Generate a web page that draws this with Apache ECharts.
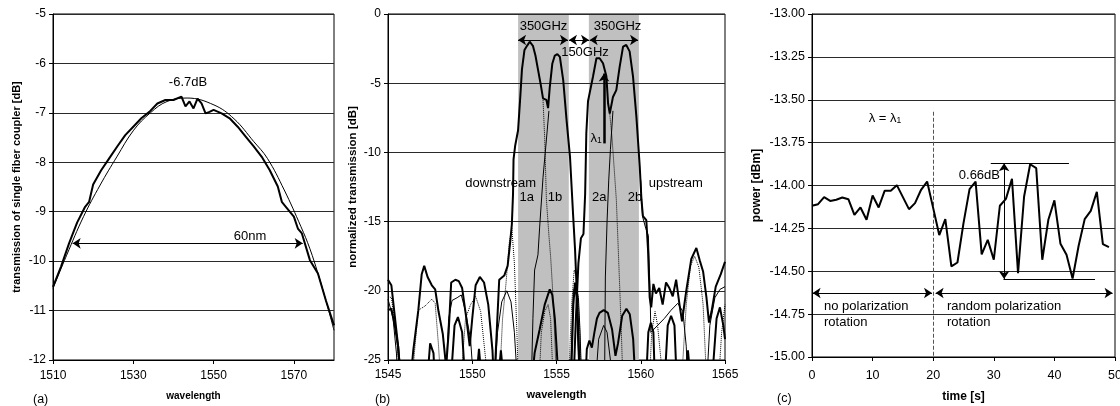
<!DOCTYPE html>
<html><head><meta charset="utf-8">
<script src="https://cdn.jsdelivr.net/npm/echarts/dist/echarts.min.js"></script>
<style>html,body{margin:0;padding:0;background:#fff}#c{width:1120px;height:406px}</style>
</head><body><div id="c"></div>
<script>
// ---------- panel (a) ----------
const aMeasX = [1510,1512,1514,1516,1518,1519,1520,1522,1524,1526,1528,1530,1532,1534,1536,1538,1540,1542,1543,1544,1545,1546,1547,1548,1549,1550,1552,1554,1556,1558,1560,1562,1564,1566,1567,1568,1570,1571,1572,1574,1576,1578,1580];
const aMeasY = [-10.52,-10.11,-9.64,-9.22,-8.9,-8.8,-8.45,-8.16,-7.92,-7.68,-7.45,-7.28,-7.11,-6.98,-6.81,-6.74,-6.74,-6.67,-6.87,-6.77,-6.91,-6.71,-6.81,-7.01,-6.98,-6.94,-7.01,-7.11,-7.28,-7.48,-7.68,-7.89,-8.16,-8.49,-8.8,-8.9,-9.1,-9.34,-9.44,-9.98,-10.25,-10.8,-11.3];
const aFitX = [1510,1513.4,1517.6,1521.75,1525.9,1530.1,1534.25,1538.4,1543.4,1550.1,1555.1,1560,1563.4,1567.6,1571.75,1574,1576,1578,1580];
const aFitY = [-10.55,-9.88,-9.1,-8.46,-7.89,-7.35,-7.0,-6.77,-6.7,-6.84,-7.12,-7.58,-7.92,-8.56,-9.3,-9.75,-10.25,-10.8,-11.4];
const aSpan = [[1514.9,-9.64],[1572.2,-9.64]];

// ---------- panel (b) ----------
const bBands = [[1552.72,1555.73],[1556.92,1559.89]];
const bDown = [[1545,-19.2],[1545.2,-19.6],[1545.4,-21.8],[1545.6,-24],[1545.8,-27],[1546.3,-27],[1546.5,-24.3],[1546.8,-21.4],[1547,-18.8],[1547.15,-18.2],[1547.35,-19],[1547.6,-19.6],[1547.8,-19.9],[1548,-21.5],[1548.25,-23.1],[1548.45,-25.5],[1548.6,-23],[1548.75,-19.4],[1549,-19.2],[1549.2,-19.3],[1549.4,-19.8],[1549.65,-22],[1549.85,-24],[1550,-22],[1550.2,-19.6],[1550.45,-19],[1550.7,-19.4],[1550.95,-21],[1551.2,-24.3],[1551.3,-27],[1551.4,-24.3],[1551.6,-19.2],[1551.9,-18.9],[1552.1,-18.2],[1552.25,-16.5],[1552.35,-15.2],[1552.42,-13],[1552.45,-10.5],[1552.55,-9.5],[1552.72,-8.4],[1552.85,-6],[1552.95,-4],[1553.1,-2.6],[1553.25,-2.3],[1553.41,-2],[1553.6,-2.3],[1553.75,-3],[1553.9,-4],[1554.05,-5],[1554.2,-6.1],[1554.4,-6.2],[1554.5,-6.8],[1554.6,-5.3],[1554.75,-3.6],[1554.9,-3],[1555.05,-2.9],[1555.2,-3.1],[1555.4,-4.8],[1555.6,-7.7],[1555.8,-10.3],[1555.98,-14.4],[1556.1,-17],[1556.2,-20],[1556.3,-23],[1556.4,-27]];
const bUp = [[1556,-27],[1556.15,-22],[1556.3,-18],[1556.45,-16.2],[1556.6,-15.9],[1556.7,-13],[1556.77,-8.6],[1556.87,-6.3],[1556.97,-5.7],[1557.17,-4.5],[1557.37,-3.2],[1557.56,-3.2],[1557.76,-3.56],[1557.96,-4.5],[1558.06,-6.45],[1558.16,-7.2],[1558.35,-6],[1558.55,-5.5],[1558.75,-3.8],[1558.95,-2.36],[1559.14,-2.24],[1559.34,-2.7],[1559.54,-4.5],[1559.74,-7.4],[1559.94,-11],[1560.04,-13.4],[1560.13,-14.6],[1560.33,-14.9],[1560.43,-17],[1560.53,-20.5],[1560.62,-21.2],[1560.75,-19.5],[1560.9,-20.2],[1561.1,-19.8],[1561.3,-21],[1561.5,-19.4],[1561.7,-19.8],[1561.9,-20.4],[1562.1,-19.2],[1562.3,-21],[1562.45,-22.2],[1562.7,-20],[1563,-17.7],[1563.3,-16.9],[1563.5,-17.8],[1563.7,-18.6],[1563.9,-20.5],[1564.05,-22.3],[1564.2,-21.5],[1564.45,-19.7],[1564.75,-18.8],[1565,-17.9]];
const bThickLow = [[1545,-21.4],[1545.2,-21.3],[1545.4,-22.5],[1545.6,-24],[1545.8,-27],[1547.3,-27],[1547.5,-23.8],[1547.7,-24.5],[1547.8,-27],[1548.7,-27],[1548.95,-22.5],[1549.15,-21.9],[1549.4,-23],[1549.6,-27],[1550.2,-27],[1550.4,-24.2],[1550.6,-27],[1551.5,-27],[1551.7,-24.3],[1551.9,-27],[1553.5,-27],[1553.7,-24.5],[1554,-22.8],[1554.3,-21],[1554.6,-19.9],[1554.75,-20.3],[1554.9,-22],[1555.05,-25],[1555.15,-27],[1556.7,-27],[1556.8,-24.2],[1556.95,-23.6],[1557.1,-24.1],[1557.25,-23],[1557.4,-22],[1557.55,-21.6],[1557.8,-21.4],[1558.05,-21.6],[1558.3,-22.8],[1558.5,-24.7],[1558.65,-23.8],[1558.9,-21.8],[1559.15,-21.3],[1559.35,-21.7],[1559.55,-23.5],[1559.7,-27]];
const bThickMid = [[1555.85,-27],[1556,-21],[1556.1,-19.4],[1556.2,-20.5],[1556.3,-24],[1556.4,-27]];
const bThickRight = [[1560.3,-27],[1560.45,-23],[1560.6,-22.3],[1560.75,-23],[1560.85,-27],[1561.4,-27],[1561.6,-22.5],[1561.8,-21.8],[1562,-22.5],[1562.15,-27],[1562.6,-27],[1562.8,-24.3],[1563,-27],[1564.2,-27],[1564.5,-22],[1564.7,-21.2],[1564.9,-22.5],[1565,-23.5]];
const bThinLeft = [[1545,-20.6],[1545.3,-22],[1545.5,-24.5],[1545.6,-27],[1548.4,-27],[1548.6,-22],[1548.8,-20.7],[1549.1,-20.5],[1549.35,-20.3],[1549.6,-21.5],[1549.9,-23.5],[1550.1,-27],[1551.3,-27],[1551.5,-23],[1551.75,-20.8],[1552.05,-20],[1552.3,-20.8],[1552.5,-23],[1552.7,-27]];
const bThin1b = [[1553.5,-27],[1553.6,-22],[1553.7,-18.5],[1553.9,-17.4],[1554,-15.4],[1554.2,-11.8],[1554.4,-9.1],[1554.55,-7]];
const bThin2b = [[1557.85,-27],[1557.9,-19],[1558,-15],[1558.1,-12],[1558.2,-9.8],[1558.35,-7]];
const bThinArch = [[1557.3,-27],[1557.5,-23.5],[1557.8,-22.5],[1558,-23],[1558.2,-25],[1558.3,-27]];
const bThinMid = [[1555.8,-27],[1556,-20],[1556.15,-19.5],[1556.3,-20.5],[1556.4,-23],[1556.5,-27]];
const bThinRight = [[1560,-12],[1560.1,-14.6],[1560.3,-15.5],[1560.45,-16],[1560.55,-20],[1560.6,-23],[1561,-22.5],[1561.4,-22],[1561.8,-21.4],[1562.2,-20.9],[1562.5,-21.5],[1562.7,-24],[1562.8,-27],[1563.9,-27],[1564.1,-22.5],[1564.4,-20.5],[1564.7,-19.9],[1565,-19.7]];
const bDotLeft = [[1545,-20.4],[1545.2,-20.5],[1545.5,-23],[1545.7,-27],[1546.4,-27],[1546.6,-24],[1546.8,-21.4],[1547.2,-21.1],[1547.6,-20.6],[1547.8,-20.9],[1548,-24],[1548.15,-27],[1549.3,-27],[1549.6,-22],[1549.9,-21],[1550.2,-20.4],[1550.5,-21.5],[1550.8,-25],[1550.9,-27],[1551.6,-27],[1551.8,-22],[1552,-19.5],[1552.2,-16.5],[1552.35,-15.5],[1552.5,-18],[1552.65,-23],[1552.75,-27]];
const bDot1a = [[1554.2,-6.2],[1554.3,-9],[1554.4,-13.4],[1554.55,-16],[1554.65,-17.5],[1554.75,-19.5],[1554.85,-22],[1554.95,-25],[1555,-27]];
const bDot1bLow = [[1553.95,-27],[1554.1,-23],[1554.3,-21.5],[1554.5,-21],[1554.65,-22],[1554.75,-25],[1554.8,-27]];
const bDot2a = [[1558.16,-7.2],[1558.3,-9],[1558.55,-13.4],[1558.65,-16.5],[1558.75,-19.7],[1558.85,-23],[1558.95,-27]];
const bDotMid = [[1555.7,-27],[1555.9,-21],[1556.05,-18.5],[1556.2,-19],[1556.35,-22],[1556.5,-27]];
const bDotRight = [[1560.5,-27],[1560.65,-23],[1560.85,-21.5],[1561,-22.5],[1561.2,-25],[1561.35,-27],[1562.4,-27],[1562.7,-21],[1562.95,-18.2],[1563.2,-17.5],[1563.45,-18.3],[1563.7,-21],[1563.85,-25],[1563.95,-27],[1564.6,-27],[1564.8,-23],[1565,-21]];
const bSpan350a = [[1552.72,-1.88],[1555.68,-1.88]];
const bSpan150 = [[1555.74,-1.88],[1556.93,-1.88]];
const bSpan350b = [[1556.97,-1.88],[1559.84,-1.88]];
const bLambda = [[1557.82,-9.35],[1557.82,-4.3]];

// ---------- panel (c) ----------
const cTime = [0,1,2,3,4,5,6,7,8,9,10,11,12,13,14,15,16,17,18,19,20,21,22,23,24,25,26,27,28,29,30,31,32,33,34,35,36,37,38,39,40,41,42,43,44,45,46,47,48,49];
const cPower = [-14.118,-14.109,-14.068,-14.09,-14.083,-14.07,-14.08,-14.171,-14.128,-14.2,-14.058,-14.128,-14.03,-14.03,-13.998,-14.068,-14.138,-14.103,-14.025,-13.977,-14.132,-14.289,-14.196,-14.472,-14.449,-14.219,-14.021,-13.977,-14.402,-14.317,-14.433,-14.118,-14.078,-13.961,-14.511,-14.064,-13.876,-13.899,-14.433,-14.2,-14.087,-14.34,-14.404,-14.542,-14.351,-14.196,-14.148,-14.037,-14.342,-14.359];
const cSwitch = [[20,-13.57],[20,-15]];
const cTopRef = [[29.5,-13.87],[42.4,-13.87]];
const cBotRef = [[31.6,-14.545],[46.7,-14.545]];
const cRange = [[31.7,-13.87],[31.7,-14.545]];
const cPhase1 = [[0.1,-14.627],[19.8,-14.627]];
const cPhase2 = [[20.4,-14.627],[49.6,-14.627]];

const zip = (xs, ys) => xs.map((x, i) => [x, ys[i]]);
const FONT = '"Liberation Sans", Arial, sans-serif';

function seg(p, sym, w, type, color) {
  return [{coord: p[0], symbol: sym[0]}, {coord: p[1], symbol: sym[1]}].map(d => Object.assign(d, {lineStyle: {color: color || '#000', width: w, type: type || 'solid'}}));
}
function marks(list) {
  return {silent: true, animation: false, symbolSize: 8, label: {show: false}, emphasis: {disabled: true}, data: list};
}
function line(data, idx, w, type, z, extra) {
  return Object.assign({type: 'line', xAxisIndex: idx, yAxisIndex: idx, data: data, showSymbol: false, symbol: 'none',
    lineStyle: {color: '#000', width: w, type: type || 'solid'}, z: z || 5, silent: true, animation: false, clip: true,
    emphasis: {disabled: true}}, extra || {});
}
function xAx(idx, min, max, interval, name, gap, margin, fs, nfs, hideMax) {
  return {gridIndex: idx, type: 'value', min, max, interval, z: 3, name, nameLocation: 'middle', nameGap: gap,
    nameTextStyle: {color: '#000', fontWeight: 'bold', fontSize: nfs, fontFamily: FONT},
    axisLine: {show: true, onZero: false, lineStyle: {color: '#000', width: 1}},
    axisTick: {show: true, length: 4, lineStyle: {color: '#000'}},
    splitLine: {show: false},
    axisLabel: {color: '#000', fontSize: fs, fontFamily: FONT, margin, showMaxLabel: !hideMax,
      formatter: v => (hideMax && v === max) ? '' : String(v)}};
}
function yAx(idx, min, max, interval, name, gap, fs, nfs, dec) {
  return {gridIndex: idx, type: 'value', min, max, interval, z: 3, name, nameLocation: 'middle', nameGap: gap, nameRotate: 90,
    nameTextStyle: {color: '#000', fontWeight: 'bold', fontSize: nfs, fontFamily: FONT},
    axisLine: {show: true, onZero: false, lineStyle: {color: '#000', width: 1}},
    axisTick: {show: true, length: 4, lineStyle: {color: '#000'}},
    splitLine: {show: true, lineStyle: {color: '#2a2a2a', width: 1}},
    axisLabel: {color: '#000', fontSize: fs, fontFamily: FONT, margin: 7, formatter: v => v.toFixed(dec)}};
}
function txt(x, y, text, align, size, extra) {
  return {type: 'text', x, y, silent: true, z: 20,
    style: Object.assign({text, fill: '#000', fontSize: size || 13, fontFamily: FONT, align: align || 'center', verticalAlign: 'middle'}, extra || {})};
}
const sub = {l: {fontSize: 13, fontFamily: FONT, fill: '#000'}, s: {fontSize: 8.5, fontFamily: FONT, fill: '#000', verticalAlign: 'bottom', padding: [6, 0, 0, 0]}};

const gridBase = {show: true, borderColor: '#000', borderWidth: 1, backgroundColor: 'transparent', containLabel: false, outerBoundsMode: 'none'};

const option = {
  backgroundColor: '#fff',
  animation: false,
  grid: [
    Object.assign({left: 53, top: 14, width: 281, height: 346}, gridBase),
    Object.assign({left: 388, top: 14, width: 337, height: 346}, gridBase),
    Object.assign({left: 812, top: 14, width: 303, height: 343}, gridBase)
  ],
  xAxis: [
    xAx(0, 1510, 1580, 20, 'wavelength', 31, 10, 12, 10, true),
    xAx(1, 1545, 1565, 5, 'wavelength', 29, 9, 12, 11, false),
    xAx(2, 0, 50, 10, 'time [s]', 34, 12, 12.5, 12, false)
  ],
  yAxis: [
    yAx(0, -12, -5, 1, 'transmission of single fiber coupler [dB]', 31, 12, 11, 0),
    yAx(1, -25, 0, 5, 'normalized transmission [dB]', 29, 12, 11.5, 0),
    yAx(2, -15, -13, 0.25, 'power [dBm]', 49, 12.5, 12, 2)
  ],
  series: [
    // (a)
    line(zip(aMeasX, aMeasY), 0, 2, 'solid', 5),
    line(zip(aFitX, aFitY), 0, 1, 'solid', 6, {smooth: 0.4,
      markLine: marks([seg(aSpan, ['arrow', 'arrow'], 1)])}),
    // (b) gray bands
    line([[1545, -100]], 1, 1, 'solid', 1, {markArea: {silent: true, itemStyle: {color: '#c0c0c0'},
      data: bBands.map(b => [{xAxis: b[0]}, {xAxis: b[1]}])}}),
    line(bDotLeft, 1, 1, 'dotted', 5),
    line(bDot1a, 1, 1, 'dotted', 5),
    line(bDot1bLow, 1, 1, 'dotted', 5),
    line(bDot2a, 1, 1, 'dotted', 5),
    line(bDotMid, 1, 1, 'dotted', 5),
    line(bDotRight, 1, 1, 'dotted', 5),
    line(bThinLeft, 1, 1, 'solid', 6),
    line(bThin1b, 1, 1, 'solid', 6),
    line(bThin2b, 1, 1, 'solid', 6),
    line(bThinArch, 1, 1, 'solid', 6),
    line(bThinMid, 1, 1, 'solid', 6),
    line(bThinRight, 1, 1, 'solid', 6),
    line(bThickLow, 1, 2, 'solid', 7),
    line(bThickMid, 1, 2, 'solid', 7),
    line(bThickRight, 1, 2, 'solid', 7),
    line(bDown, 1, 2, 'solid', 7),
    line(bUp, 1, 2, 'solid', 7, {markLine: marks([
      seg(bSpan350a, ['arrow', 'arrow'], 1),
      seg(bSpan150, ['arrow', 'arrow'], 1),
      seg(bSpan350b, ['arrow', 'arrow'], 1),
      seg(bLambda, ['none', 'arrow'], 2.5)
    ])}),
    // (c)
    line(zip(cTime, cPower), 2, 2, 'solid', 6, {markLine: marks([
      seg(cSwitch, ['none', 'none'], 1, 'dashed', '#555'),
      seg(cTopRef, ['none', 'none'], 1),
      seg(cBotRef, ['none', 'none'], 1),
      seg(cRange, ['arrow', 'arrow'], 1),
      seg(cPhase1, ['arrow', 'arrow'], 1),
      seg(cPhase2, ['arrow', 'arrow'], 1)
    ])})
  ],
  graphic: [
    txt(188, 82, '-6.7dB'),
    txt(250, 236, '60nm'),
    txt(33, 400, '(a)', 'left', 12.5),
    txt(375, 400, '(b)', 'left', 12.5),
    txt(777, 399, '(c)', 'left', 12.5),
    txt(543.5, 26, '350GHz'),
    txt(617.5, 26, '350GHz'),
    txt(585, 52, '150GHz'),
    txt(596, 138, '{l|λ}{s|1}', 'center', 13, {rich: sub}),
    txt(500.7, 183, 'downstream'),
    txt(526.7, 197, '1a'),
    txt(555, 197, '1b'),
    txt(599.3, 197, '2a'),
    txt(635, 197, '2b'),
    txt(675.8, 183, 'upstream'),
    txt(885, 118, '{l|λ = λ}{s|1}', 'center', 13, {rich: sub}),
    txt(1000, 175, '0.66dB', 'right'),
    txt(824, 306, 'no polarization', 'left'),
    txt(824, 322, 'rotation', 'left'),
    txt(947, 306, 'random polarization', 'left'),
    txt(947, 322, 'rotation', 'left')
  ]
};
const chart = echarts.init(document.getElementById('c'), null, {renderer: 'canvas'});
chart.setOption(option);
</script></body></html>
